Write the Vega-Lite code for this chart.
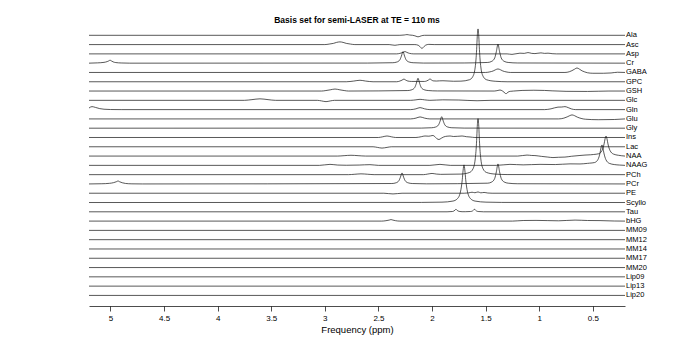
{
"$schema": "https://vega.github.io/schema/vega-lite/v6.json",
"width": 536, "height": 280,
"autosize": "none",
"padding": {"left": 89, "top": 26, "right": 65, "bottom": 40},
"background": "white",
"title": {"text": "Basis set for semi-LASER at TE = 110 ms", "font": "Liberation Sans", "fontSize": 8.5, "fontWeight": "bold", "color": "#000", "offset": 2},
"config": {"view": {"stroke": null}},
"data": {"values": [
{"m":"Ala","p":5.2,"a":0},{"m":"Ala","p":2.30,"a":0},{"m":"Ala","p":2.26,"a":0.3},{"m":"Ala","p":2.234,"a":0.7},{"m":"Ala","p":2.21,"a":0.3},{"m":"Ala","p":2.18,"a":0},{"m":"Ala","p":2.16,"a":-0.5},{"m":"Ala","p":2.14,"a":-1.3},{"m":"Ala","p":2.131,"a":-1.5},{"m":"Ala","p":2.12,"a":-1.3},{"m":"Ala","p":2.10,"a":-0.5},{"m":"Ala","p":2.07,"a":0},{"m":"Ala","p":0.2,"a":0},

{"m":"Asc","p":5.2,"a":0},{"m":"Asc","p":3.00,"a":0},{"m":"Asc","p":2.96,"a":0.5},{"m":"Asc","p":2.92,"a":1.2},{"m":"Asc","p":2.89,"a":2.2},{"m":"Asc","p":2.859,"a":2.7},{"m":"Asc","p":2.83,"a":2.2},{"m":"Asc","p":2.80,"a":1.2},{"m":"Asc","p":2.76,"a":0.5},{"m":"Asc","p":2.72,"a":0},{"m":"Asc","p":2.40,"a":0},{"m":"Asc","p":2.346,"a":-0.7},{"m":"Asc","p":2.30,"a":0},{"m":"Asc","p":2.16,"a":0},{"m":"Asc","p":2.13,"a":-0.6},{"m":"Asc","p":2.115,"a":-1.8},{"m":"Asc","p":2.104,"a":-3},{"m":"Asc","p":2.094,"a":-4},{"m":"Asc","p":2.084,"a":-3},{"m":"Asc","p":2.073,"a":-1.8},{"m":"Asc","p":2.06,"a":-0.6},{"m":"Asc","p":2.03,"a":0.2},{"m":"Asc","p":1.98,"a":0},{"m":"Asc","p":0.2,"a":0},

{"m":"Asp","p":5.2,"a":0},{"m":"Asp","p":2.33,"a":0},{"m":"Asp","p":2.30,"a":0.5},{"m":"Asp","p":2.27,"a":1.5},{"m":"Asp","p":2.252,"a":2.3},{"m":"Asp","p":2.235,"a":1.5},{"m":"Asp","p":2.21,"a":0.5},{"m":"Asp","p":2.17,"a":0},{"m":"Asp","p":1.30,"a":0},{"m":"Asp","p":1.254,"a":-0.5},{"m":"Asp","p":1.18,"a":0.7},{"m":"Asp","p":1.14,"a":0.5},{"m":"Asp","p":1.105,"a":1.3},{"m":"Asp","p":1.07,"a":0.5},{"m":"Asp","p":1.04,"a":0.3},{"m":"Asp","p":0.984,"a":1.0},{"m":"Asp","p":0.95,"a":0.5},{"m":"Asp","p":0.918,"a":0.7},{"m":"Asp","p":0.88,"a":0.2},{"m":"Asp","p":0.84,"a":0},{"m":"Asp","p":0.2,"a":0},

{"m":"Cr","p":5.2,"a":0},{"m":"Cr","p":5.12,"a":0.3},{"m":"Cr","p":5.06,"a":0.8},{"m":"Cr","p":5.03,"a":1.6},{"m":"Cr","p":5.015,"a":2.3},{"m":"Cr","p":5.004,"a":3},{"m":"Cr","p":4.99,"a":2.2},{"m":"Cr","p":4.975,"a":1.3},{"m":"Cr","p":4.95,"a":0.6},{"m":"Cr","p":4.90,"a":0.2},{"m":"Cr","p":4.82,"a":0},{"m":"Cr","p":2.60,"a":0.1},{"m":"Cr","p":2.366,"a":0.44},{"m":"Cr","p":2.328,"a":1.15},{"m":"Cr","p":2.301,"a":3.2},{"m":"Cr","p":2.286,"a":7.0},{"m":"Cr","p":2.271,"a":11.5},{"m":"Cr","p":2.256,"a":7.0},{"m":"Cr","p":2.241,"a":3.2},{"m":"Cr","p":2.214,"a":1.15},{"m":"Cr","p":2.176,"a":0.44},{"m":"Cr","p":2.08,"a":0.1},{"m":"Cr","p":1.70,"a":0.2},{"m":"Cr","p":1.48,"a":0.72},{"m":"Cr","p":1.442,"a":1.9},{"m":"Cr","p":1.415,"a":5.3},{"m":"Cr","p":1.40,"a":11.6},{"m":"Cr","p":1.385,"a":19},{"m":"Cr","p":1.37,"a":11.6},{"m":"Cr","p":1.355,"a":5.3},{"m":"Cr","p":1.328,"a":1.9},{"m":"Cr","p":1.29,"a":0.72},{"m":"Cr","p":1.20,"a":0.2},{"m":"Cr","p":0.2,"a":0},

{"m":"GABA","p":5.2,"a":0},{"m":"GABA","p":1.50,"a":0},{"m":"GABA","p":1.46,"a":0.6},{"m":"GABA","p":1.43,"a":1.5},{"m":"GABA","p":1.41,"a":2.6},{"m":"GABA","p":1.385,"a":3.5},{"m":"GABA","p":1.36,"a":2.6},{"m":"GABA","p":1.34,"a":1.5},{"m":"GABA","p":1.31,"a":0.6},{"m":"GABA","p":1.27,"a":0},{"m":"GABA","p":0.76,"a":0},{"m":"GABA","p":0.72,"a":0.7},{"m":"GABA","p":0.695,"a":1.8},{"m":"GABA","p":0.67,"a":3.3},{"m":"GABA","p":0.648,"a":4.5},{"m":"GABA","p":0.625,"a":3.3},{"m":"GABA","p":0.60,"a":1.6},{"m":"GABA","p":0.575,"a":0.5},{"m":"GABA","p":0.55,"a":-0.3},{"m":"GABA","p":0.50,"a":-0.8},{"m":"GABA","p":0.40,"a":-0.8},{"m":"GABA","p":0.33,"a":-0.5},{"m":"GABA","p":0.27,"a":0.2},{"m":"GABA","p":0.2,"a":0},

{"m":"GPC","p":5.2,"a":0},{"m":"GPC","p":2.80,"a":0},{"m":"GPC","p":2.73,"a":0.7},{"m":"GPC","p":2.672,"a":1.5},{"m":"GPC","p":2.62,"a":0.7},{"m":"GPC","p":2.55,"a":0},{"m":"GPC","p":2.33,"a":0},{"m":"GPC","p":2.30,"a":0.7},{"m":"GPC","p":2.28,"a":1.6},{"m":"GPC","p":2.262,"a":2.7},{"m":"GPC","p":2.245,"a":1.6},{"m":"GPC","p":2.225,"a":0.7},{"m":"GPC","p":2.19,"a":0.3},{"m":"GPC","p":2.07,"a":0.3},{"m":"GPC","p":2.05,"a":0.8},{"m":"GPC","p":2.034,"a":1.7},{"m":"GPC","p":2.019,"a":2.8},{"m":"GPC","p":2.004,"a":1.7},{"m":"GPC","p":1.99,"a":0.9},{"m":"GPC","p":1.96,"a":0.7},{"m":"GPC","p":1.93,"a":0.9},{"m":"GPC","p":1.898,"a":1.0},{"m":"GPC","p":1.86,"a":0.8},{"m":"GPC","p":1.80,"a":0.5},{"m":"GPC","p":1.731,"a":0.6},{"m":"GPC","p":1.651,"a":2.0},{"m":"GPC","p":1.619,"a":5.3},{"m":"GPC","p":1.597,"a":14.8},{"m":"GPC","p":1.584,"a":32.2},{"m":"GPC","p":1.578,"a":45.5},{"m":"GPC","p":1.571,"a":52.8},{"m":"GPC","p":1.564,"a":45.5},{"m":"GPC","p":1.558,"a":32.2},{"m":"GPC","p":1.545,"a":14.8},{"m":"GPC","p":1.523,"a":5.3},{"m":"GPC","p":1.491,"a":2.0},{"m":"GPC","p":1.411,"a":0.5},{"m":"GPC","p":1.30,"a":0},{"m":"GPC","p":0.2,"a":0},

{"m":"GSH","p":5.2,"a":0},{"m":"GSH","p":3.03,"a":0},{"m":"GSH","p":2.99,"a":0.5},{"m":"GSH","p":2.95,"a":1.2},{"m":"GSH","p":2.905,"a":2},{"m":"GSH","p":2.86,"a":1.2},{"m":"GSH","p":2.82,"a":0.5},{"m":"GSH","p":2.78,"a":0},{"m":"GSH","p":2.226,"a":0.5},{"m":"GSH","p":2.188,"a":1.3},{"m":"GSH","p":2.161,"a":3.6},{"m":"GSH","p":2.146,"a":7.8},{"m":"GSH","p":2.131,"a":12.8},{"m":"GSH","p":2.116,"a":7.8},{"m":"GSH","p":2.101,"a":3.6},{"m":"GSH","p":2.074,"a":1.3},{"m":"GSH","p":2.036,"a":0.5},{"m":"GSH","p":1.95,"a":0.1},{"m":"GSH","p":1.42,"a":0},{"m":"GSH","p":1.385,"a":0.6},{"m":"GSH","p":1.366,"a":1.0},{"m":"GSH","p":1.345,"a":0.2},{"m":"GSH","p":1.328,"a":-1.2},{"m":"GSH","p":1.318,"a":-2.2},{"m":"GSH","p":1.310,"a":-2.7},{"m":"GSH","p":1.302,"a":-2.2},{"m":"GSH","p":1.292,"a":-1.2},{"m":"GSH","p":1.27,"a":-0.3},{"m":"GSH","p":1.24,"a":0},{"m":"GSH","p":1.16,"a":0.6},{"m":"GSH","p":1.05,"a":0.8},{"m":"GSH","p":0.95,"a":0.6},{"m":"GSH","p":0.88,"a":0.2},{"m":"GSH","p":0.75,"a":-0.3},{"m":"GSH","p":0.55,"a":-0.4},{"m":"GSH","p":0.35,"a":0},{"m":"GSH","p":0.2,"a":0},

{"m":"Glc","p":5.2,"a":0},{"m":"Glc","p":3.75,"a":0},{"m":"Glc","p":3.68,"a":0.7},{"m":"Glc","p":3.605,"a":1.5},{"m":"Glc","p":3.53,"a":0.7},{"m":"Glc","p":3.46,"a":0},{"m":"Glc","p":3.07,"a":0},{"m":"Glc","p":3.03,"a":-0.6},{"m":"Glc","p":2.989,"a":-1.3},{"m":"Glc","p":2.95,"a":-0.6},{"m":"Glc","p":2.91,"a":0},{"m":"Glc","p":2.20,"a":0},{"m":"Glc","p":2.15,"a":0.5},{"m":"Glc","p":2.112,"a":1},{"m":"Glc","p":2.07,"a":0.5},{"m":"Glc","p":2.02,"a":0},{"m":"Glc","p":1.90,"a":0.5},{"m":"Glc","p":1.75,"a":0.3},{"m":"Glc","p":1.58,"a":-0.4},{"m":"Glc","p":1.45,"a":0},{"m":"Glc","p":0.2,"a":0},

{"m":"Gln","p":5.2,"a":1.6},{"m":"Gln","p":5.172,"a":3},{"m":"Gln","p":5.14,"a":2.2},{"m":"Gln","p":5.10,"a":1.0},{"m":"Gln","p":5.06,"a":0.4},{"m":"Gln","p":5.0,"a":0.1},{"m":"Gln","p":4.9,"a":0},{"m":"Gln","p":2.20,"a":0},{"m":"Gln","p":2.15,"a":0.8},{"m":"Gln","p":2.112,"a":2},{"m":"Gln","p":2.07,"a":0.8},{"m":"Gln","p":2.02,"a":0},{"m":"Gln","p":0.95,"a":0},{"m":"Gln","p":0.89,"a":0.8},{"m":"Gln","p":0.825,"a":2.5},{"m":"Gln","p":0.79,"a":2.6},{"m":"Gln","p":0.76,"a":3.0},{"m":"Gln","p":0.73,"a":2.0},{"m":"Gln","p":0.70,"a":0.7},{"m":"Gln","p":0.66,"a":0},{"m":"Gln","p":0.2,"a":0},

{"m":"Glu","p":5.2,"a":0},{"m":"Glu","p":2.20,"a":0},{"m":"Glu","p":2.15,"a":0.8},{"m":"Glu","p":2.112,"a":2},{"m":"Glu","p":2.07,"a":0.8},{"m":"Glu","p":2.02,"a":0},{"m":"Glu","p":0.82,"a":0},{"m":"Glu","p":0.77,"a":0.8},{"m":"Glu","p":0.74,"a":2.0},{"m":"Glu","p":0.715,"a":3.3},{"m":"Glu","p":0.694,"a":4},{"m":"Glu","p":0.67,"a":3.2},{"m":"Glu","p":0.645,"a":1.8},{"m":"Glu","p":0.61,"a":0.5},{"m":"Glu","p":0.57,"a":-0.3},{"m":"Glu","p":0.45,"a":-0.8},{"m":"Glu","p":0.30,"a":-0.6},{"m":"Glu","p":0.2,"a":0},

{"m":"Gly","p":5.2,"a":0},{"m":"Gly","p":2.10,"a":0.1},{"m":"Gly","p":2.005,"a":0.44},{"m":"Gly","p":1.967,"a":1.15},{"m":"Gly","p":1.940,"a":3.2},{"m":"Gly","p":1.925,"a":7},{"m":"Gly","p":1.910,"a":11.5},{"m":"Gly","p":1.895,"a":7},{"m":"Gly","p":1.880,"a":3.2},{"m":"Gly","p":1.853,"a":1.15},{"m":"Gly","p":1.815,"a":0.44},{"m":"Gly","p":1.70,"a":0.1},{"m":"Gly","p":0.2,"a":0},

{"m":"Ins","p":5.2,"a":0},{"m":"Ins","p":2.50,"a":0},{"m":"Ins","p":2.46,"a":0.7},{"m":"Ins","p":2.42,"a":1.5},{"m":"Ins","p":2.38,"a":0.7},{"m":"Ins","p":2.34,"a":0},{"m":"Ins","p":2.15,"a":0},{"m":"Ins","p":2.10,"a":0.8},{"m":"Ins","p":2.066,"a":1.5},{"m":"Ins","p":2.03,"a":1.3},{"m":"Ins","p":2.00,"a":1.9},{"m":"Ins","p":1.991,"a":2},{"m":"Ins","p":1.975,"a":1},{"m":"Ins","p":1.955,"a":-1.2},{"m":"Ins","p":1.935,"a":-2},{"m":"Ins","p":1.915,"a":-0.8},{"m":"Ins","p":1.89,"a":0.6},{"m":"Ins","p":1.86,"a":1.3},{"m":"Ins","p":1.832,"a":1.5},{"m":"Ins","p":1.80,"a":1.0},{"m":"Ins","p":1.76,"a":1.2},{"m":"Ins","p":1.72,"a":1.5},{"m":"Ins","p":1.68,"a":0.8},{"m":"Ins","p":1.646,"a":0.5},{"m":"Ins","p":1.60,"a":0},{"m":"Ins","p":0.2,"a":0},

{"m":"Lac","p":5.2,"a":0},{"m":"Lac","p":2.55,"a":0},{"m":"Lac","p":2.51,"a":-0.6},{"m":"Lac","p":2.467,"a":-1.3},{"m":"Lac","p":2.42,"a":-0.6},{"m":"Lac","p":2.38,"a":0},{"m":"Lac","p":0.2,"a":0},

{"m":"NAA","p":5.2,"a":0},{"m":"NAA","p":2.88,"a":0},{"m":"NAA","p":2.82,"a":0.4},{"m":"NAA","p":2.756,"a":0.8},{"m":"NAA","p":2.69,"a":0.4},{"m":"NAA","p":2.62,"a":0},{"m":"NAA","p":1.20,"a":0},{"m":"NAA","p":1.114,"a":1.0},{"m":"NAA","p":1.07,"a":0.6},{"m":"NAA","p":1.04,"a":0.5},{"m":"NAA","p":0.98,"a":-0.3},{"m":"NAA","p":0.92,"a":-1.0},{"m":"NAA","p":0.872,"a":-1.5},{"m":"NAA","p":0.82,"a":-1.2},{"m":"NAA","p":0.76,"a":-1.0},{"m":"NAA","p":0.70,"a":-0.2},{"m":"NAA","p":0.62,"a":0.6},{"m":"NAA","p":0.573,"a":1.0},{"m":"NAA","p":0.52,"a":1.3},{"m":"NAA","p":0.492,"a":1.6},{"m":"NAA","p":0.446,"a":2.3},{"m":"NAA","p":0.414,"a":5.6},{"m":"NAA","p":0.395,"a":12.2},{"m":"NAA","p":0.386,"a":17.2},{"m":"NAA","p":0.377,"a":20},{"m":"NAA","p":0.368,"a":17.2},{"m":"NAA","p":0.359,"a":12.2},{"m":"NAA","p":0.340,"a":5.6},{"m":"NAA","p":0.308,"a":2.0},{"m":"NAA","p":0.262,"a":0.8},{"m":"NAA","p":0.2,"a":0},

{"m":"NAAG","p":5.2,"a":0},{"m":"NAAG","p":3.05,"a":0},{"m":"NAAG","p":2.952,"a":1.0},{"m":"NAAG","p":2.88,"a":0.3},{"m":"NAAG","p":2.80,"a":0.1},{"m":"NAAG","p":2.68,"a":0.3},{"m":"NAAG","p":2.579,"a":0.7},{"m":"NAAG","p":2.50,"a":0},{"m":"NAAG","p":2.02,"a":0},{"m":"NAAG","p":1.926,"a":1.0},{"m":"NAAG","p":1.83,"a":0},{"m":"NAAG","p":1.40,"a":0},{"m":"NAAG","p":1.273,"a":1.0},{"m":"NAAG","p":1.15,"a":0.5},{"m":"NAAG","p":0.993,"a":1.0},{"m":"NAAG","p":0.85,"a":0.8},{"m":"NAAG","p":0.713,"a":1.5},{"m":"NAAG","p":0.62,"a":1.4},{"m":"NAAG","p":0.55,"a":2.0},{"m":"NAAG","p":0.53,"a":2.2},{"m":"NAAG","p":0.484,"a":2.8},{"m":"NAAG","p":0.452,"a":5.9},{"m":"NAAG","p":0.433,"a":12.4},{"m":"NAAG","p":0.424,"a":17.5},{"m":"NAAG","p":0.415,"a":20.4},{"m":"NAAG","p":0.406,"a":17.5},{"m":"NAAG","p":0.397,"a":12.4},{"m":"NAAG","p":0.378,"a":5.7},{"m":"NAAG","p":0.346,"a":2.0},{"m":"NAAG","p":0.30,"a":0.8},{"m":"NAAG","p":0.25,"a":0.3},{"m":"NAAG","p":0.2,"a":0},

{"m":"PCh","p":5.2,"a":0},{"m":"PCh","p":2.78,"a":0},{"m":"PCh","p":2.72,"a":0.4},{"m":"PCh","p":2.663,"a":0.8},{"m":"PCh","p":2.60,"a":0.4},{"m":"PCh","p":2.54,"a":0},{"m":"PCh","p":2.08,"a":0},{"m":"PCh","p":2.04,"a":0.6},{"m":"PCh","p":2.000,"a":1.2},{"m":"PCh","p":1.96,"a":0.6},{"m":"PCh","p":1.92,"a":0.3},{"m":"PCh","p":1.731,"a":0.56},{"m":"PCh","p":1.651,"a":2.15},{"m":"PCh","p":1.619,"a":5.6},{"m":"PCh","p":1.597,"a":15.7},{"m":"PCh","p":1.584,"a":34.1},{"m":"PCh","p":1.578,"a":48.3},{"m":"PCh","p":1.571,"a":56},{"m":"PCh","p":1.564,"a":48.3},{"m":"PCh","p":1.558,"a":34.1},{"m":"PCh","p":1.545,"a":15.7},{"m":"PCh","p":1.523,"a":5.6},{"m":"PCh","p":1.491,"a":2.15},{"m":"PCh","p":1.411,"a":0.56},{"m":"PCh","p":1.30,"a":0.1},{"m":"PCh","p":0.2,"a":0},

{"m":"PCr","p":5.2,"a":0},{"m":"PCr","p":5.08,"a":0.2},{"m":"PCr","p":5.01,"a":0.6},{"m":"PCr","p":4.97,"a":1.3},{"m":"PCr","p":4.945,"a":2.2},{"m":"PCr","p":4.929,"a":3},{"m":"PCr","p":4.915,"a":2.2},{"m":"PCr","p":4.89,"a":1.2},{"m":"PCr","p":4.86,"a":0.5},{"m":"PCr","p":4.80,"a":0.1},{"m":"PCr","p":4.70,"a":0},{"m":"PCr","p":2.375,"a":0.42},{"m":"PCr","p":2.337,"a":1.1},{"m":"PCr","p":2.310,"a":3.1},{"m":"PCr","p":2.295,"a":6.7},{"m":"PCr","p":2.280,"a":11},{"m":"PCr","p":2.265,"a":6.7},{"m":"PCr","p":2.250,"a":3.1},{"m":"PCr","p":2.223,"a":1.1},{"m":"PCr","p":2.185,"a":0.42},{"m":"PCr","p":2.05,"a":0.1},{"m":"PCr","p":1.48,"a":0.76},{"m":"PCr","p":1.442,"a":2.0},{"m":"PCr","p":1.415,"a":5.6},{"m":"PCr","p":1.40,"a":12.2},{"m":"PCr","p":1.385,"a":20},{"m":"PCr","p":1.37,"a":12.2},{"m":"PCr","p":1.355,"a":5.6},{"m":"PCr","p":1.328,"a":2.0},{"m":"PCr","p":1.29,"a":0.76},{"m":"PCr","p":1.20,"a":0.2},{"m":"PCr","p":0.2,"a":0},

{"m":"PE","p":5.2,"a":0},{"m":"PE","p":2.45,"a":0},{"m":"PE","p":2.364,"a":-0.7},{"m":"PE","p":2.28,"a":0},{"m":"PE","p":1.70,"a":0},{"m":"PE","p":1.66,"a":0.3},{"m":"PE","p":1.627,"a":1.0},{"m":"PE","p":1.60,"a":0.5},{"m":"PE","p":1.571,"a":1.3},{"m":"PE","p":1.545,"a":0.4},{"m":"PE","p":1.515,"a":0.8},{"m":"PE","p":1.48,"a":0.2},{"m":"PE","p":1.44,"a":0},{"m":"PE","p":0.2,"a":0},

{"m":"Scyllo","p":5.2,"a":0},{"m":"Scyllo","p":2.10,"a":0.1},{"m":"Scyllo","p":1.907,"a":0.37},{"m":"Scyllo","p":1.805,"a":1.45},{"m":"Scyllo","p":1.764,"a":3.76},{"m":"Scyllo","p":1.735,"a":10.6},{"m":"Scyllo","p":1.718,"a":22.9},{"m":"Scyllo","p":1.710,"a":32.4},{"m":"Scyllo","p":1.702,"a":37.6},{"m":"Scyllo","p":1.694,"a":32.4},{"m":"Scyllo","p":1.686,"a":22.9},{"m":"Scyllo","p":1.669,"a":10.6},{"m":"Scyllo","p":1.640,"a":3.76},{"m":"Scyllo","p":1.599,"a":1.45},{"m":"Scyllo","p":1.497,"a":0.37},{"m":"Scyllo","p":1.35,"a":0.1},{"m":"Scyllo","p":0.2,"a":0},

{"m":"Tau","p":5.2,"a":0},{"m":"Tau","p":1.86,"a":0},{"m":"Tau","p":1.81,"a":0.3},{"m":"Tau","p":1.795,"a":0.9},{"m":"Tau","p":1.785,"a":1.8},{"m":"Tau","p":1.777,"a":2.5},{"m":"Tau","p":1.769,"a":1.8},{"m":"Tau","p":1.759,"a":0.9},{"m":"Tau","p":1.74,"a":0.3},{"m":"Tau","p":1.72,"a":0.1},{"m":"Tau","p":1.69,"a":0.1},{"m":"Tau","p":1.64,"a":0.3},{"m":"Tau","p":1.622,"a":0.9},{"m":"Tau","p":1.612,"a":1.8},{"m":"Tau","p":1.604,"a":2.5},{"m":"Tau","p":1.596,"a":1.8},{"m":"Tau","p":1.586,"a":0.9},{"m":"Tau","p":1.57,"a":0.3},{"m":"Tau","p":1.52,"a":0},{"m":"Tau","p":0.2,"a":0},

{"m":"bHG","p":5.2,"a":0},{"m":"bHG","p":2.47,"a":0},{"m":"bHG","p":2.43,"a":0.4},{"m":"bHG","p":2.40,"a":1.0},{"m":"bHG","p":2.383,"a":1.5},{"m":"bHG","p":2.365,"a":1.0},{"m":"bHG","p":2.34,"a":0.4},{"m":"bHG","p":2.30,"a":0},{"m":"bHG","p":1.25,"a":0},{"m":"bHG","p":1.15,"a":0.6},{"m":"bHG","p":1.03,"a":0.7},{"m":"bHG","p":0.92,"a":0.5},{"m":"bHG","p":0.82,"a":0.3},{"m":"bHG","p":0.666,"a":1.0},{"m":"bHG","p":0.55,"a":0.6},{"m":"bHG","p":0.433,"a":0.5},{"m":"bHG","p":0.30,"a":0.1},{"m":"bHG","p":0.2,"a":0},

{"m":"MM09","p":5.2,"a":0},{"m":"MM09","p":0.2,"a":0},
{"m":"MM12","p":5.2,"a":0},{"m":"MM12","p":0.2,"a":0},
{"m":"MM14","p":5.2,"a":0},{"m":"MM14","p":0.2,"a":0},
{"m":"MM17","p":5.2,"a":0},{"m":"MM17","p":0.2,"a":0},
{"m":"MM20","p":5.2,"a":0},{"m":"MM20","p":0.2,"a":0},
{"m":"Lip09","p":5.2,"a":0},{"m":"Lip09","p":0.2,"a":0},
{"m":"Lip13","p":5.2,"a":0},{"m":"Lip13","p":0.2,"a":0},
{"m":"Lip20","p":5.2,"a":0},{"m":"Lip20","p":0.2,"a":0}
]},
"transform": [
  {"calculate": "datum.a - indexof(['Ala','Asc','Asp','Cr','GABA','GPC','GSH','Glc','Gln','Glu','Gly','Ins','Lac','NAA','NAAG','PCh','PCr','PE','Scyllo','Tau','bHG','MM09','MM12','MM14','MM17','MM20','Lip09','Lip13','Lip20'], datum.m) * 9.29", "as": "y"}
],
"layer": [
  {
    "mark": {"type": "line", "stroke": "#111", "strokeWidth": 0.7, "interpolate": "monotone"},
    "encoding": {
      "x": {"field": "p", "type": "quantitative",
            "scale": {"domain": [0.2, 5.2], "reverse": true, "nice": false, "zero": false},
            "axis": {"title": "Frequency (ppm)", "values": [0.5,1,1.5,2,2.5,3,3.5,4,4.5,5], "format": "~g",
                     "grid": false, "tickSize": 5, "tickColor": "#000", "tickWidth": 0.7,
                     "domainColor": "#000", "domainWidth": 0.7,
                     "labelFont": "Liberation Sans", "labelFontSize": 8, "labelColor": "#000", "labelPadding": 3,
                     "titleFont": "Liberation Sans", "titleFontSize": 9.5, "titleFontWeight": "normal", "titleColor": "#000", "titlePadding": 2}},
      "y": {"field": "y", "type": "quantitative", "scale": {"domain": [-270.7, 9.3], "nice": false, "zero": false}, "axis": null},
      "detail": {"field": "m"}
    }
  },
  {
    "transform": [{"filter": "datum.p <= 0.2"}],
    "mark": {"type": "text", "align": "left", "baseline": "middle", "dx": 1, "fontSize": 7.5, "font": "Liberation Sans", "fill": "#000"},
    "encoding": {
      "x": {"field": "p", "type": "quantitative"},
      "y": {"field": "y", "type": "quantitative"},
      "text": {"field": "m"}
    }
  }
]
}
